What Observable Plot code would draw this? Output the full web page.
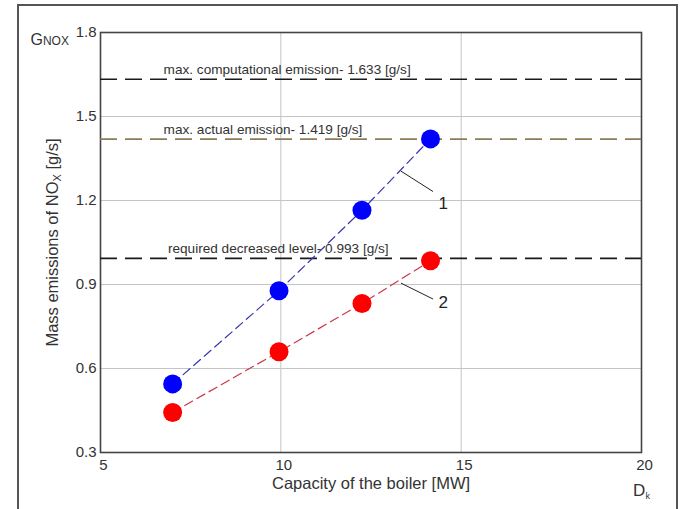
<!DOCTYPE html>
<html>
<head>
<meta charset="utf-8">
<script src="https://cdn.jsdelivr.net/npm/d3@7"></script>
<script src="https://cdn.jsdelivr.net/npm/@observablehq/plot@0.6"></script>
<style>
  html, body { margin: 0; padding: 0; background: #fff; }
  #wrap { position: relative; width: 691px; height: 509px; overflow: hidden; }
  #border { position: absolute; left: 17px; top: 4px; width: 661px; height: 540px; border: 2px solid #555; box-sizing: border-box; }
  #chart { position: absolute; left: 0; top: 0; }
</style>
</head>
<body>
<div id="wrap"><div id="border"></div><div id="chart"></div></div>
<script>
// ---- data ----
const capacity = [7.0, 9.95, 12.25, 14.15];           // boiler capacity [MW]
const series1 = [0.545, 0.878, 1.165, 1.42];          // curve 1
const series2 = [0.443, 0.66, 0.832, 0.985];          // curve 2
const refLevels = [1.633, 1.419, 0.993];
const refLabels = [
  "max. computational emission- 1.633 [g/s]",
  "max. actual emission- 1.419 [g/s]",
  "required decreased level- 0.993 [g/s]"
];
const seriesNames = ["1", "2"];
const xTicks = [5, 10, 15, 20];
const yTicks = [0.3, 0.6, 0.9, 1.2, 1.5, 1.8];
const xTitle = "Capacity of the boiler [MW]";
const yTitle = "Mass emissions of NOX [g/s]";

// annotation anchors (data coordinates)
const refLabelX = [6.75, 6.75, 6.87];
const leaderFrom = [[13.33, 1.305], [13.33, 0.905]];
const leaderTo = [[14.22, 1.232], [14.22, 0.848]];
const nameAt = [[14.5, 1.19], [14.5, 0.835]];

const pts1 = capacity.map((x, i) => ({x, y: series1[i]}));
const pts2 = capacity.map((x, i) => ({x, y: series2[i]}));
const refColor = (d, i) => i === 1 ? "#8c7c58" : "#1a1a1a";

const font = "'Liberation Sans', Arial, sans-serif";

const plot = Plot.plot({
  width: 691,
  height: 509,
  marginLeft: 100,
  marginRight: 50,
  marginTop: 32,
  marginBottom: 57,
  style: {fontFamily: font, background: "transparent", color: "#333"},
  x: {domain: [5, 20]},
  y: {domain: [0.3, 1.8]},
  color: {type: "identity"},
  marks: [
    Plot.gridX(xTicks.slice(1, -1), {stroke: "#c4c4c4", strokeOpacity: 1, strokeWidth: 1}),
    Plot.gridY(yTicks.slice(1, -1), {stroke: "#c4c4c4", strokeOpacity: 1, strokeWidth: 1}),
    Plot.frame({stroke: "#444", strokeWidth: 1.6}),
    Plot.axisX(xTicks, {tickSize: 0, tickPadding: 7, dx: 3, label: null, fontSize: 15, fill: "#333"}),
    Plot.axisY(yTicks, {tickSize: 0, tickPadding: 4, tickFormat: d3.format(".1f"), label: null, fontSize: 15, fill: "#333"}),
    // reference levels
    Plot.ruleY(refLevels, {y: d => d, stroke: refColor, strokeWidth: 1.7, strokeDasharray: "17,8"}),
    Plot.text(refLevels, {x: (d, i) => refLabelX[i], y: d => d, text: (d, i) => refLabels[i], dy: -10, textAnchor: "start", fontSize: 13.6, fill: "#333"}),
    // series
    Plot.line(pts1, {x: "x", y: "y", stroke: "#3838b0", strokeWidth: 1.2, strokeDasharray: "9,5"}),
    Plot.line(pts2, {x: "x", y: "y", stroke: "#c83848", strokeWidth: 1.2, strokeDasharray: "9,5"}),
    Plot.dot(pts1, {x: "x", y: "y", r: 9.5, fill: "#0000ff"}),
    Plot.dot(pts2, {x: "x", y: "y", r: 9.5, fill: "#ff0000"}),
    // leaders and names
    Plot.link(seriesNames, {x1: (d, i) => leaderFrom[i][0], y1: (d, i) => leaderFrom[i][1], x2: (d, i) => leaderTo[i][0], y2: (d, i) => leaderTo[i][1], stroke: "#222", strokeWidth: 1}),
    Plot.text(seriesNames, {x: (d, i) => nameAt[i][0], y: (d, i) => nameAt[i][1], text: d => d, fontSize: 17, fill: "#222"}),
    // axis titles
    Plot.text([xTitle], {frameAnchor: "bottom", dy: 36, textAnchor: "middle", text: d => d, fontSize: 16.5, fill: "#333"}),
    Plot.text([yTitle], {frameAnchor: "left", dx: -48, rotate: -90, textAnchor: "middle", text: d => d, fontSize: 16.5, fill: "#333"}),
    Plot.text(["GNOX"], {frameAnchor: "top-left", dx: -70, dy: 1, textAnchor: "start", text: d => d, fontSize: 16, fill: "#333"}),
    Plot.text(["Dk"], {frameAnchor: "bottom-right", dy: 43, dx: 0, textAnchor: "middle", text: d => d, fontSize: 17, fill: "#333"})
  ]
});

document.getElementById("chart").appendChild(plot);

// rich-text sub/superscripts
const svg = d3.select(plot);
const byText = s => svg.selectAll("text").filter(function () { return this.textContent === s; });
byText(yTitle).each(function () {
  const t = d3.select(this).text(null);
  t.append("tspan").text("Mass emissions of NO");
  t.append("tspan").attr("font-size", 11).attr("dy", 3).text("X");
  t.append("tspan").attr("dy", -3).text(" [g/s]");
});
byText("GNOX").each(function () {
  const t = d3.select(this).text(null);
  t.append("tspan").attr("font-size", 16).text("G");
  t.append("tspan").attr("font-size", 12).text("NOX");
});
byText("Dk").each(function () {
  const t = d3.select(this).text(null);
  t.append("tspan").text("D");
  t.append("tspan").attr("font-size", 9).attr("dy", 3).text("k");
});
</script>
</body>
</html>
